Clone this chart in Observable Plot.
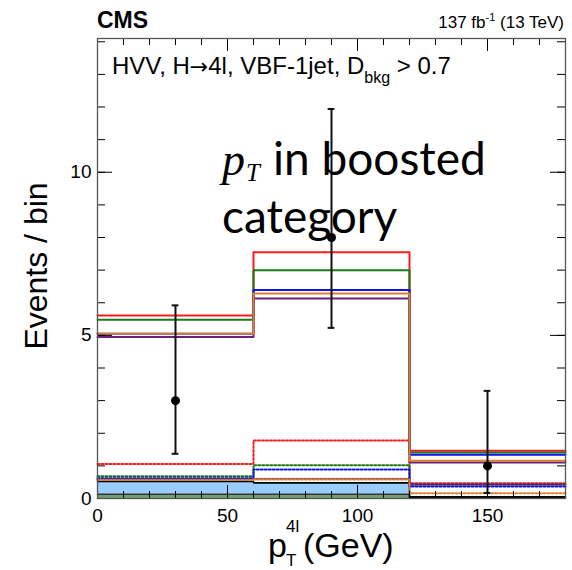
<!DOCTYPE html>
<html><head><meta charset="utf-8">
<script src="https://cdn.jsdelivr.net/npm/d3@7"></script>
<script src="https://cdn.jsdelivr.net/npm/@observablehq/plot@0.6"></script>
<style>
body{margin:0;background:#fff;}
#wrap{position:relative;width:572px;height:570px;}
#wrap svg{position:absolute;left:0;top:0;}
</style></head><body>
<div id="wrap"></div>
<script>
// ---- data ----
const binEdges = [0, 60, 120, 180];
const seriesNames = ["red", "green", "blue", "purple", "orange"];
const seriesColors = ["#ff1a1a", "#1b7a1b", "#1010ee", "#6b1f7f", "#d9822b"];
// solid histograms (signal hypotheses), events per bin
const solidRed    = [5.61, 7.55, 1.46];
const solidGreen  = [5.48, 7.00, 1.41];
const solidBlue   = [5.05, 6.39, 1.34];
const solidPurple = [4.95, 6.13, 1.10];
const solidOrange = [5.05, 6.28, 1.16];
// dotted histograms
const dotRed    = [1.06, 1.78, 0.47];
const dotGreen  = [0.68, 1.02, 0.42];
const dotBlue   = [0.62, 0.89, 0.37];
const dotPurple = [0.58, 0.60, 0.44];
const dotOrange = [0.57, 0.58, 0.16];
// filled backgrounds (stacked)
const bkgGreen = [0.13, 0.13, 0.02];
const bkgBlue  = [0.39, 0.35, 0.03];
// observed data
const dataX    = [30, 90, 150];
const dataY    = [3, 8, 1];
const dataLow  = [1.37, 5.23, 0.17];
const dataHigh = [5.92, 11.94, 3.30];
// ticks
const xMajor = [0, 50, 100, 150];
const xMinor = d3.range(0, 181, 10);
const yMajor = [0, 5, 10];
const yMinor = d3.range(0, 15, 1);

// ---- layout ----
const W = 572, H = 570;
const mT = 38, mB = 72, mL = 97, mR = 7;
const fh = H - mT - mB, fw = W - mL - mR;

function steps(vals) {
  return binEdges.map((x, i) => ({x, y: vals[Math.min(i, vals.length - 1)]}));
}
function stack(a, b) {
  return binEdges.map((x, i) => {
    const k = Math.min(i, a.length - 1);
    return {x, y1: a[k], y2: a[k] + b[k]};
  });
}

const solids = [solidRed, solidGreen, solidBlue, solidPurple, solidOrange];
const dotted = [dotRed, dotGreen, dotBlue, dotPurple, dotOrange];
const pts = dataX.map((x, i) => ({x, y: dataY[i], lo: dataLow[i], hi: dataHigh[i]}));

const marks = [
  Plot.areaY(steps(bkgGreen), {x: "x", y1: 0, y2: "y", curve: "step-after", fill: "#6f9f6f"}),
  Plot.areaY(stack(bkgGreen, bkgBlue), {x: "x", y1: "y1", y2: "y2", curve: "step-after", fill: "#99ccff"}),
  Plot.line(steps(bkgGreen), {x: "x", y: "y", curve: "step-after", stroke: "#333", strokeWidth: 1.5}),
  Plot.line(stack(bkgGreen, bkgBlue), {x: "x", y: "y2", curve: "step-after", stroke: "#000", strokeWidth: 1.6}),
];
dotted.forEach((vals, i) => marks.push(
  Plot.line(steps(vals), {x: "x", y: "y", curve: "step-after", stroke: seriesColors[i], strokeWidth: 2, strokeDasharray: "2,2"})
));
solids.forEach((vals, i) => marks.push(
  Plot.line(steps(vals), {x: "x", y: "y", curve: "step-after", stroke: seriesColors[i], strokeWidth: 2})
));
marks.push(
  Plot.ruleX(pts, {x: "x", y1: "lo", y2: "hi", stroke: "#111", strokeWidth: 2}),
  Plot.ruleY(pts, {y: "hi", x1: d => d.x - 1.3, x2: d => d.x + 1.3, stroke: "#111", strokeWidth: 2}),
  Plot.ruleY(pts, {y: "lo", x1: d => d.x - 1.3, x2: d => d.x + 1.3, stroke: "#111", strokeWidth: 2}),
  Plot.dot(pts, {x: "x", y: "y", r: 4.5, fill: "#000", stroke: "none"}),
  // inward ticks
  Plot.tickX(xMinor, {x: d => d, insetTop: fh - 7, stroke: "#000"}),
  Plot.tickX(xMajor, {x: d => d, insetTop: fh - 13, stroke: "#000"}),
  Plot.tickX(xMinor, {x: d => d, insetBottom: fh - 7, stroke: "#000"}),
  Plot.tickX(xMajor, {x: d => d, insetBottom: fh - 13, stroke: "#000"}),
  Plot.tickY(yMinor, {y: d => d, insetRight: fw - 8, stroke: "#000"}),
  Plot.tickY(yMajor, {y: d => d, insetRight: fw - 15, stroke: "#000"}),
  Plot.tickY(yMinor, {y: d => d, insetLeft: fw - 8, stroke: "#000"}),
  Plot.tickY(yMajor, {y: d => d, insetLeft: fw - 15, stroke: "#000"}),
  Plot.axisX({ticks: xMajor, tickSize: 0, tickPadding: 10, fontSize: 19, label: null}),
  Plot.axisY({ticks: yMajor, tickSize: 0, tickPadding: 6, fontSize: 19, label: null}),
  Plot.frame({stroke: "#555", strokeWidth: 1.3})
);

const chart = Plot.plot({
  width: W, height: H,
  marginTop: mT, marginBottom: mB, marginLeft: mL, marginRight: mR,
  x: {domain: [0, 180]},
  y: {domain: [0, 14.1]},
  style: {fontFamily: "Liberation Sans, Arial, sans-serif", color: "#000", background: "transparent"},
  marks
});
document.getElementById("wrap").appendChild(chart);

// ---- text overlay ----
const NS = "http://www.w3.org/2000/svg";
const ov = document.createElementNS(NS, "svg");
ov.setAttribute("width", W); ov.setAttribute("height", H);
ov.style.pointerEvents = "none";
ov.innerHTML = `
<g font-family="Liberation Sans, Arial, sans-serif" fill="#000">
  <text x="97" y="28" font-size="23" font-weight="bold">CMS</text>
  <text x="564" y="28" font-size="17" text-anchor="end">137 fb<tspan dy="-7" font-size="11">-1</tspan><tspan dy="7"> (13 TeV)</tspan></text>
  <text x="112" y="74" font-size="24">HVV, H<tspan font-family="DejaVu Sans, sans-serif" font-size="22">→</tspan>4l, VBF-1jet, D<tspan dy="9" font-size="16">bkg</tspan><tspan dy="-9" font-size="24"> &gt; 0.7</tspan></text>
  <text transform="translate(47,266) rotate(-90)" text-anchor="middle" font-size="32">Events / bin</text>
  <text x="268" y="557" font-size="34">p</text>
  <text x="286" y="566" font-size="17">T</text>
  <text x="286" y="532" font-size="17">4l</text>
  <text x="303" y="557" font-size="34">(GeV)</text>
</g>
<g fill="#000">
  <text x="222" y="175" font-size="46" font-family="Liberation Serif, serif" font-style="italic">p<tspan font-size="25" dx="1" dy="6">T</tspan></text>
  <text x="273" y="175" font-size="46" font-family="Lato, sans-serif">in boosted</text>
  <text x="222" y="233" font-size="46" font-family="Lato, sans-serif">category</text>
</g>`;
document.getElementById("wrap").appendChild(ov);
</script>
</body></html>
